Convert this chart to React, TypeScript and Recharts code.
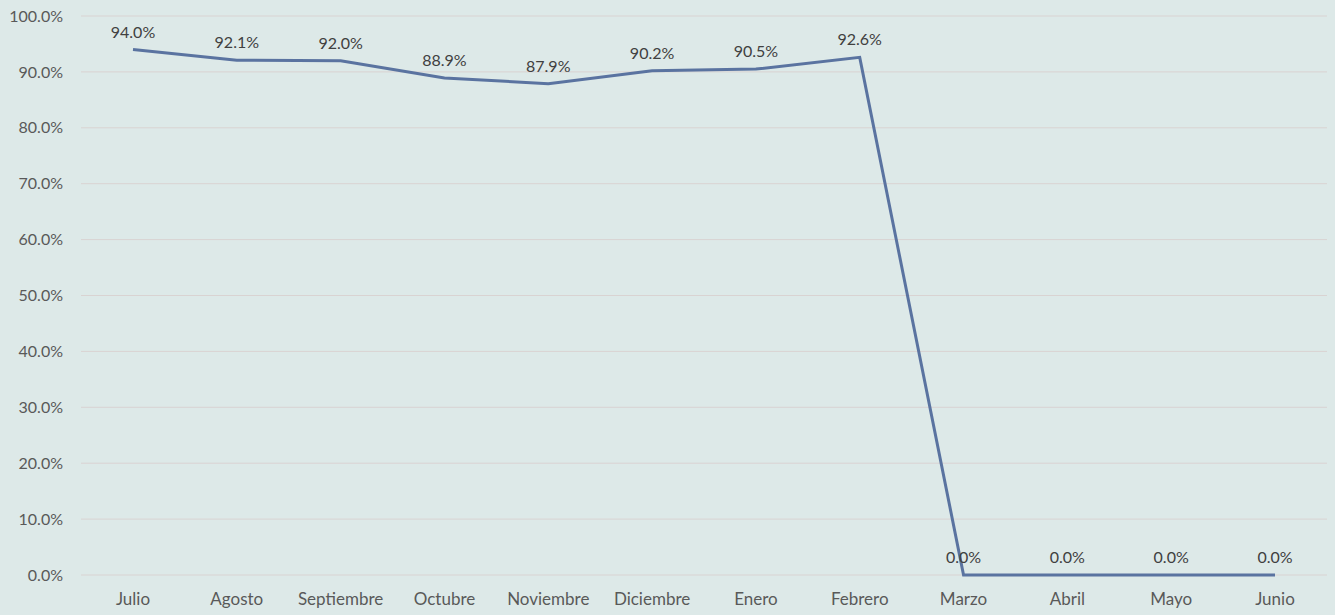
import { LineChart, Line, XAxis, YAxis, CartesianGrid, LabelList } from "recharts";

const months = [
  "Julio",
  "Agosto",
  "Septiembre",
  "Octubre",
  "Noviembre",
  "Diciembre",
  "Enero",
  "Febrero",
  "Marzo",
  "Abril",
  "Mayo",
  "Junio",
];
const rates = [94.0, 92.1, 92.0, 88.9, 87.9, 90.2, 90.5, 92.6, 0, 0, 0, 0];
const yTicks = [0, 10, 20, 30, 40, 50, 60, 70, 80, 90, 100];

const data = months.map((month, i) => ({ month, rate: rates[i] }));

const FONT = "Lato, 'Open Sans', sans-serif";
const pct = (v: any) => `${Number(v).toFixed(1)}%`;

export default function App() {
  return (
    <div
      style={{
        position: "absolute",
        left: 0,
        top: 0,
        width: 1335,
        height: 615,
        background: "#dde9e8",
        fontFamily: FONT,
      }}
    >
      <LineChart
        width={1335}
        height={615}
        data={data}
        margin={{ top: 16, right: 8, bottom: 0, left: 0 }}
      >
        <CartesianGrid vertical={false} stroke="#d9d3d2" strokeWidth={1} />
        <XAxis
          dataKey="month"
          axisLine={false}
          tickLine={false}
          tickSize={0}
          tickMargin={18}
          height={40}
          interval={0}
          padding={{ left: 52, right: 52 }}
          tick={{ fill: "#595959", fontSize: 17, fontFamily: FONT }}
        />
        <YAxis
          domain={[0, 100]}
          ticks={yTicks}
          tickFormatter={pct}
          axisLine={false}
          tickLine={false}
          tickSize={0}
          tickMargin={18}
          width={81}
          tick={{ fill: "#595959", fontSize: 16, fontFamily: FONT }}
        />
        <Line
          type="linear"
          dataKey="rate"
          stroke="#5a73a0"
          strokeWidth={3}
          dot={false}
          isAnimationActive={false}
        >
          <LabelList
            dataKey="rate"
            position="top"
            offset={12}
            formatter={pct}
            style={{ fill: "#404040", fontSize: 16, fontFamily: FONT }}
          />
        </Line>
      </LineChart>
    </div>
  );
}
